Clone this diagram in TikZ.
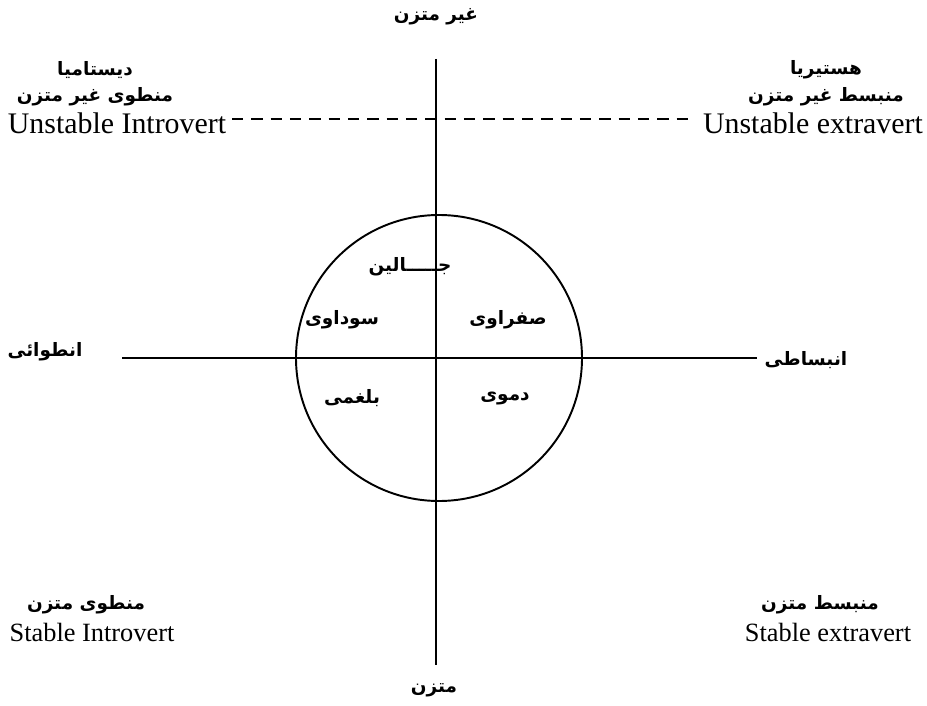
\documentclass[tikz,border=0pt]{standalone}
\usepackage{fontspec}
\setmainfont{Liberation Serif}
\newfontfamily\fa[Script=Arabic]{DejaVu Sans}
\TeXXeTstate=1
\usepackage{tikz}

\tikzset{
  fa/.style={font=\fa\bfseries\fontsize{10.5}{13}\selectfont, inner sep=1pt},
  en/.style={font=\fontsize{17}{20}\selectfont, inner sep=1pt},
  ens/.style={font=\fontsize{15}{18}\selectfont, inner sep=1pt},
  axis/.style={line width=1.1pt}
}

\begin{document}
\begin{tikzpicture}[x=0.02cm, y=-0.02cm]
    \useasboundingbox (0,0) rectangle (927,706);
    % axes and circle
    \coordinate (top) at (436,59);
    \coordinate (bot) at (436,665);
    \coordinate (lft) at (122,358);
    \coordinate (rgt) at (757,358);
    \coordinate (mid) at (439,358);
    \draw[axis] (top) -- (bot);
    \draw[axis] (lft) -- (rgt);
    \draw[axis] (mid) circle (143);
    \coordinate (dl) at (232,119);
    \coordinate (dr) at (694,119);
    \draw[axis, dash pattern=on 6.5pt off 4.5pt] (dl) -- (dr);
    % vertical ends
    \node[fa] (unst) at (436,17) {\beginR غیر متزن\endR};
    \node[fa] (stab) at (434,690) {\beginR متزن\endR};
    \node[fa] (intro) at (45,352) {\beginR انطوائی\endR};
    \node[fa] (extra) at (806,360) {\beginR انبساطی\endR};
    % corners
    \node[fa] (dys) at (95,70) {\beginR دیستامیا\endR};
    \node[fa] (ui) at (95,97) {\beginR منطوی غیر متزن\endR};
    \node[en] (uie) at (117,123) {Unstable Introvert};
    \node[fa] (hys) at (826,70) {\beginR هستیریا\endR};
    \node[fa] (ue) at (826,97) {\beginR منبسط غیر متزن\endR};
    \node[en] (uee) at (813,123) {Unstable extravert};
    \node[fa] (si) at (86,605) {\beginR منطوی متزن\endR};
    \node[ens] (sie) at (92,632) {Stable Introvert};
    \node[fa] (se) at (820,605) {\beginR منبسط متزن\endR};
    \node[ens] (see) at (828,632) {Stable extravert};
    % temperaments
    \node[fa] (gal) at (410,267) {\beginR جـــــالین\endR};
    \node[fa] (sau) at (342,320) {\beginR سوداوی\endR};
    \node[fa] (saf) at (508,320) {\beginR صفراوی\endR};
    \node[fa] (bal) at (352,398) {\beginR بلغمی\endR};
    \node[fa] (dam) at (505,398) {\beginR دموی\endR};
\end{tikzpicture}
\end{document}
